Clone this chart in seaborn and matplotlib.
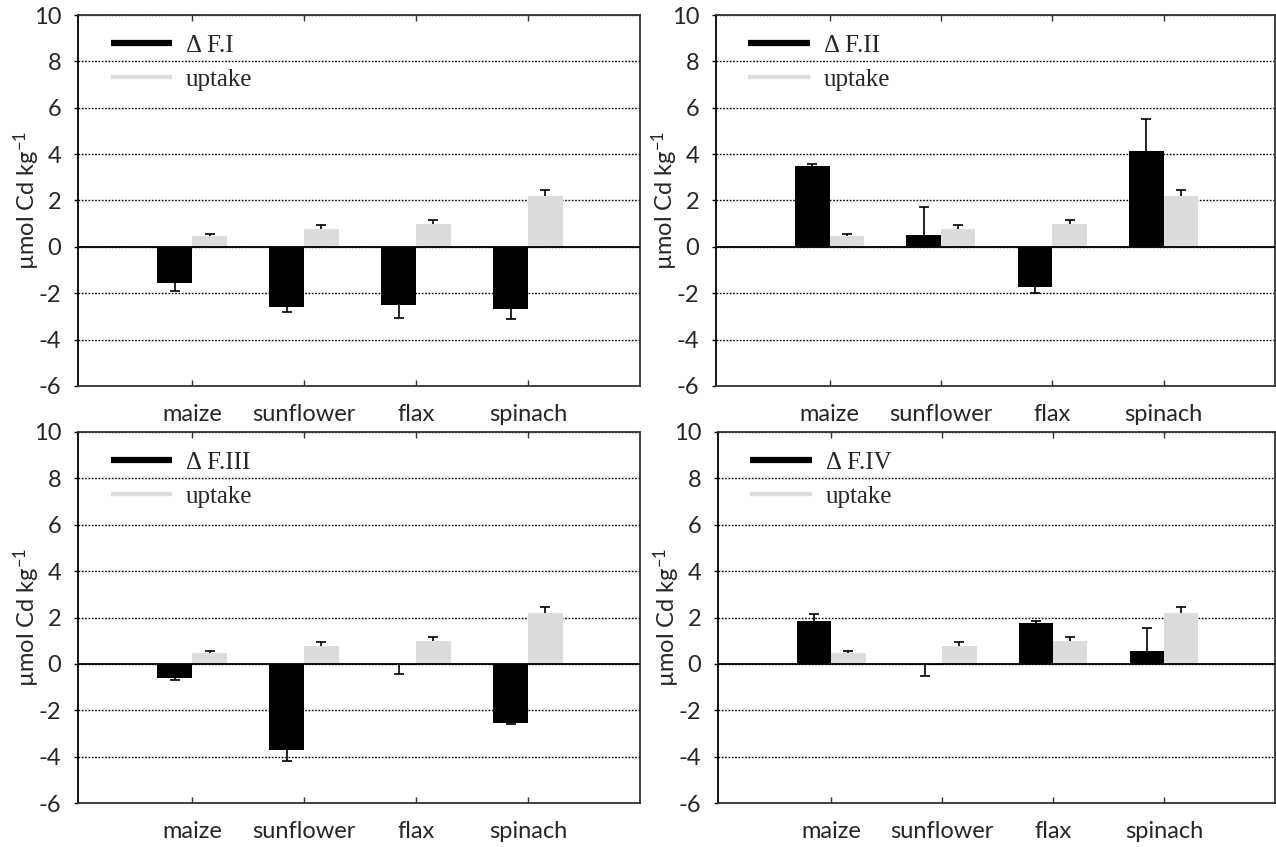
import numpy as np
import pandas as pd
import matplotlib
matplotlib.use("Agg")
import matplotlib.pyplot as plt
import seaborn as sns
from matplotlib.lines import Line2D

# ---------------- data ----------------
crops = ["maize", "sunflower", "flax", "spinach"]
uptake = [0.47, 0.78, 0.99, 2.19]
uptake_err = [0.07, 0.15, 0.15, 0.26]

delta_labels = ["\u0394 F.I", "\u0394 F.II", "\u0394 F.III", "\u0394 F.IV"]
delta_F1 = [-1.57, -2.61, -2.52, -2.70]
delta_F1_err = [0.33, 0.22, 0.55, 0.43]
delta_F2 = [3.48, 0.53, -1.71, 4.14]
delta_F2_err = [0.10, 1.19, 0.27, 1.38]
delta_F3 = [-0.60, -3.72, -0.07, -2.54]
delta_F3_err = [0.10, 0.46, 0.35, 0.06]
delta_F4 = [1.83, -0.06, 1.75, 0.56]
delta_F4_err = [0.30, 0.48, 0.12, 0.98]

delta_vals = [delta_F1, delta_F2, delta_F3, delta_F4]
delta_errs = [delta_F1_err, delta_F2_err, delta_F3_err, delta_F4_err]
yticks = [-6, -4, -2, 0, 2, 4, 6, 8, 10]

# ---------------- style ----------------
sns.set_style("white")
plt.rcParams["font.family"] = ["Lato", "DejaVu Sans"]
plt.rcParams["axes.unicode_minus"] = False
plt.rcParams["mathtext.default"] = "regular"

W, H = 1276, 847
fig = plt.figure(figsize=(W / 100, H / 100), dpi=100)

# axes boxes in pixels: (left, right, top, bottom)
boxes = [(78, 640, 15, 386), (716, 1275, 15, 386),
         (78, 640, 432, 803), (718, 1275, 432, 803)]

black = "#000000"
grey = "#dcdcdc"

for i, (l, r, t, b) in enumerate(boxes):
    ax = fig.add_axes([l / W, 1 - b / H, (r - l) / W, (b - t) / H])
    df = pd.DataFrame({
        "crop": crops * 2,
        "value": list(delta_vals[i]) + list(uptake),
        "series": ["delta"] * 4 + ["uptake"] * 4,
    })
    sns.barplot(data=df, x="crop", y="value", hue="series",
                order=crops, hue_order=["delta", "uptake"],
                palette=[black, grey], width=0.62, errorbar=None,
                linewidth=0, legend=False, ax=ax, zorder=3)

    # one-sided error bars, placed on the bars that seaborn drew
    for cont, vals, errs in zip(ax.containers,
                                [delta_vals[i], uptake],
                                [delta_errs[i], uptake_err]):
        xs = np.array([p.get_x() + p.get_width() / 2 for p in cont.patches])
        v = np.array(vals)
        e = np.array(errs)
        ends = np.where(v < 0, v - e, v + e)
        ax.vlines(xs, v, ends, color="black", linewidth=1.2, zorder=4)
        ax.plot(xs, ends, linestyle="none", marker="_", markersize=7,
                markeredgewidth=1.2, color="black", zorder=4)

    ax.set_xlim(-1.02, 4.0)
    ax.set_ylim(-6, 10)
    ax.set_yticks(yticks)
    ax.set_yticklabels([str(v) for v in yticks])
    ax.set_xlabel("")
    ax.set_ylabel("\u00b5mol Cd kg$^{-1}$", fontsize=17)
    ax.yaxis.set_label_coords(-36 / (r - l), 0.5)

    ax.yaxis.grid(True, linestyle=(0, (1.2, 1.2)), color="black",
                  linewidth=1.0, zorder=1)
    ax.xaxis.grid(False)
    ax.axhline(0, color="black", linewidth=1.3, zorder=5)

    ax.tick_params(axis="y", direction="out", length=3, width=1,
                   labelsize=17, pad=9, left=True, color="black")
    ax.tick_params(axis="x", direction="in", length=4, width=1,
                   labelsize=17, pad=13, top=True, bottom=True,
                   color="#333333")

    for side, sp in ax.spines.items():
        sp.set_visible(True)
        sp.set_color("#333333")
        sp.set_linewidth(1.3)
    ax.spines["left"].set_color("black")

    handles = [Line2D([], [], color=black, lw=4.5, solid_capstyle="butt"),
               Line2D([], [], color=grey, lw=3.2, solid_capstyle="butt")]
    ax.legend(handles, [delta_labels[i], "uptake"],
              loc="upper left", bbox_to_anchor=(0.058, 0.947),
              frameon=False, borderpad=0, borderaxespad=0,
              handlelength=2.45, handletextpad=0.56, labelspacing=0.44,
              prop={"family": "Liberation Serif", "size": 18})

fig.savefig("out.png", dpi=100)
